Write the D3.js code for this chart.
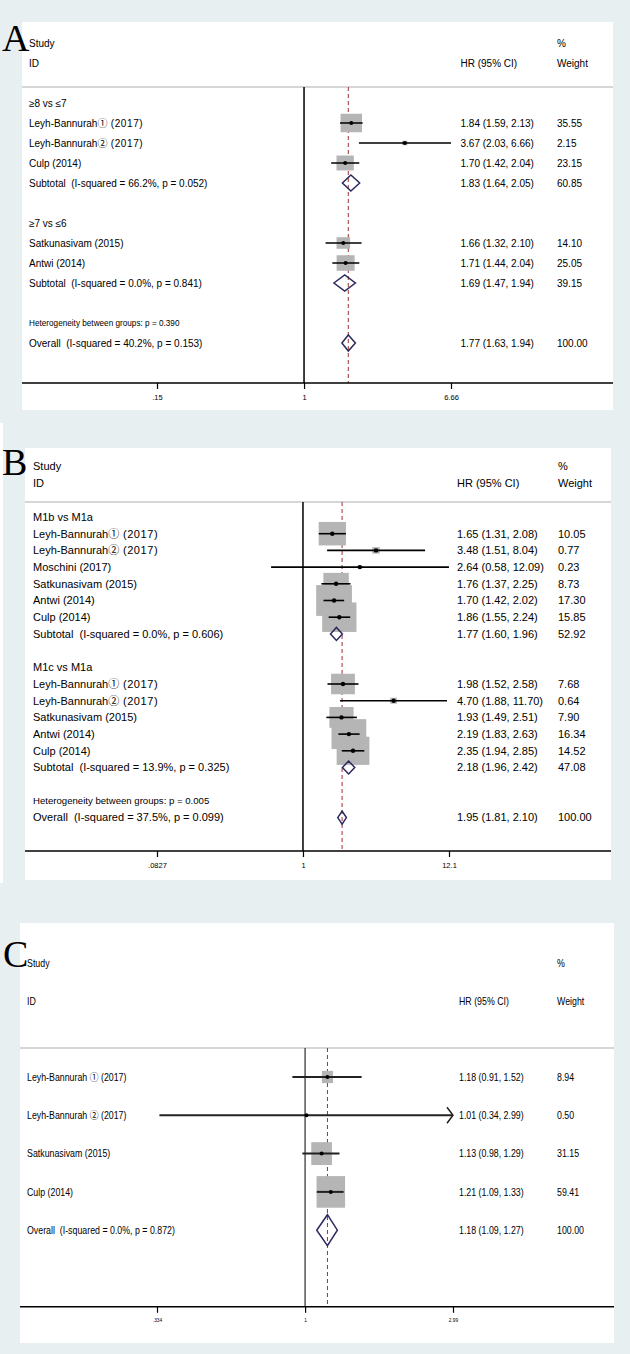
<!DOCTYPE html>
<html><head><meta charset="utf-8">
<script src="https://cdn.jsdelivr.net/npm/d3@7"></script>
<style>body{margin:0;background:#e8eff1;} svg{display:block} text{white-space:pre}</style>
</head><body>
<svg id="chart" width="630" height="1354"></svg>
<script>
// ---------- Panel A data ----------
const labelsA = ["≥8 vs ≤7","Leyh-Bannurah① (2017)","Leyh-Bannurah② (2017)","Culp (2014)",
  "Subtotal  (I-squared = 66.2%, p = 0.052)","","≥7 vs ≤6","Satkunasivam (2015)","Antwi (2014)",
  "Subtotal  (I-squared = 0.0%, p = 0.841)","","Heterogeneity between groups: p = 0.390",
  "Overall  (I-squared = 40.2%, p = 0.153)"];
const typesA = ["group","study","study","study","sub","blank","group","study","study","sub","blank","het","overall"];
const hrA     = [null,1.84,3.67,1.70,1.83,null,null,1.66,1.71,1.69,null,null,1.77];
const loA     = [null,1.59,2.03,1.42,1.64,null,null,1.32,1.44,1.47,null,null,1.63];
const hiA     = [null,2.13,6.66,2.04,2.05,null,null,2.10,2.04,1.94,null,null,1.94];
const weightA = [null,35.55,2.15,23.15,60.85,null,null,14.10,25.05,39.15,null,null,100.00];
const arrowA  = [false,false,false,false,false,false,false,false,false,false,false,false,false];
const ticksA = [0.15, 1, 6.66];
const tickLabelsA = [".15", "1", "6.66"];

// ---------- Panel B data ----------
const labelsB = ["M1b vs M1a","Leyh-Bannurah① (2017)","Leyh-Bannurah② (2017)","Moschini (2017)",
  "Satkunasivam (2015)","Antwi (2014)","Culp (2014)","Subtotal  (I-squared = 0.0%, p = 0.606)","",
  "M1c vs M1a","Leyh-Bannurah① (2017)","Leyh-Bannurah② (2017)","Satkunasivam (2015)","Antwi (2014)",
  "Culp (2014)","Subtotal  (I-squared = 13.9%, p = 0.325)","","Heterogeneity between groups: p = 0.005",
  "Overall  (I-squared = 37.5%, p = 0.099)"];
const typesB = ["group","study","study","study","study","study","study","sub","blank",
  "group","study","study","study","study","study","sub","blank","het","overall"];
const hrB     = [null,1.65,3.48,2.64,1.76,1.70,1.86,1.77,null,null,1.98,4.70,1.93,2.19,2.35,2.18,null,null,1.95];
const loB     = [null,1.31,1.51,0.58,1.37,1.42,1.55,1.60,null,null,1.52,1.88,1.49,1.83,1.94,1.96,null,null,1.81];
const hiB     = [null,2.08,8.04,12.09,2.25,2.02,2.24,1.96,null,null,2.58,11.70,2.51,2.63,2.85,2.42,null,null,2.10];
const weightB = [null,10.05,0.77,0.23,8.73,17.30,15.85,52.92,null,null,7.68,0.64,7.90,16.34,14.52,47.08,null,null,100.00];
const arrowB  = labelsB.map(() => false);
const ticksB = [0.0827, 1, 12.1];
const tickLabelsB = [".0827", "1", "12.1"];

// ---------- Panel C data ----------
const labelsC = ["Leyh-Bannurah ① (2017)","Leyh-Bannurah ② (2017)","Satkunasivam (2015)","Culp (2014)",
  "Overall  (I-squared = 0.0%, p = 0.872)"];
const typesC = ["study","study","study","study","overall"];
const hrC     = [1.18,1.01,1.13,1.21,1.18];
const loC     = [0.91,0.34,0.98,1.09,1.09];
const hiC     = [1.52,2.99,1.29,1.33,1.27];
const weightC = [8.94,0.50,31.15,59.41,100.00];
const arrowC  = [false,true,false,false,false];
const ticksC = [0.334, 1, 2.99];
const tickLabelsC = [".334", "1", "2.99"];

// ---------- layout (positions / styles) ----------
const panels = [
  {letter:"A", letterX:2, letterY:51, rect:[22,22,591,388], studyY:43, idY:63, sepY:87, row0:103, step:20,
   font:10, sx:1, hetFont:8.2, tickFont:7.5, labelX:29, hrX:460.5, wX:557, range:[157,451],
   kh:3.1, kw:3.6, dh:16, ciW:1.5, r:2, vColor:"#000", tailSpacing:0.6,
   labels:labelsA, types:typesA, hr:hrA, lo:loA, hi:hiA, w:weightA, arrow:arrowA, ticks:ticksA, tickLabels:tickLabelsA},
  {letter:"B", letterX:2, letterY:475, rect:[25,448,586,432], studyY:466, idY:483, sepY:502, row0:517, step:16.7,
   font:11, sx:1, hetFont:9.6, tickFont:7.5, labelX:33, hrX:457, wX:558, range:[157,449],
   kh:7.4, kw:8.6, dh:13, ciW:1.6, r:2.2, vColor:"#000", tailSpacing:0.6,
   labels:labelsB, types:typesB, hr:hrB, lo:loB, hi:hiB, w:weightB, arrow:arrowB, ticks:ticksB, tickLabels:tickLabelsB},
  {letter:"C", letterX:3, letterY:967, rect:[20,923,594,420], studyY:963, idY:1001, sepY:1048, row0:1077, step:38.3,
   font:10.5, sx:0.84, hetFont:9, tickFont:4.8, labelX:27, hrX:459, wX:557, range:[157,453],
   kh:4.1, kw:3.7, dh:31, ciW:2, r:2, vColor:"#555", tailSpacing:0,
   labels:labelsC, types:typesC, hr:hrC, lo:loC, hi:hiC, w:weightC, arrow:arrowC, ticks:ticksC, tickLabels:tickLabelsC}
];

const svg = d3.select("#chart");
svg.append("rect").attr("width",630).attr("height",1354).attr("fill","#e8eff1");
svg.append("rect").attr("x",0).attr("y",423).attr("width",3).attr("height",460).attr("fill","#fff");

const FONT = "'Liberation Sans', Arial, 'DejaVu Sans', sans-serif";
const CJK = "'Noto Sans CJK SC', 'DejaVu Sans', sans-serif";
const fmt = v => v.toFixed(2);

function txt(g, p, x, y, s, size) {
  return g.append("text")
    .attr("transform", `translate(${x},${y}) scale(${p.sx},1)`)
    .attr("dy", "0.35em")
    .attr("font-family", FONT)
    .attr("font-size", size || p.font)
    .attr("fill", "#000")
    .text(s);
}

panels.forEach(p => {
  const g = svg.append("g");
  const [rx, ry, rw, rh] = p.rect;
  g.append("rect").attr("x",rx).attr("y",ry).attr("width",rw).attr("height",rh).attr("fill","#fff");

  g.append("text").attr("x",p.letterX).attr("y",p.letterY)
    .attr("font-family","'Liberation Serif','Times New Roman',serif").attr("font-size",38)
    .attr("fill","#000").text(p.letter);

  // headers
  txt(g, p, p.labelX, p.studyY, "Study");
  txt(g, p, p.wX, p.studyY, "%");
  txt(g, p, p.labelX, p.idY, "ID");
  txt(g, p, p.hrX, p.idY, "HR (95% CI)");
  txt(g, p, p.wX, p.idY, "Weight");
  g.append("line").attr("x1",rx).attr("x2",rx+rw).attr("y1",p.sepY).attr("y2",p.sepY)
    .attr("stroke","#d6d6d6").attr("stroke-width",2);

  const n = p.labels.length;
  const y = d3.scaleLinear().domain([0, n + 1]).range([p.row0, p.row0 + p.step * (n + 1)]);
  const axisY = y(n + 1);
  const x = d3.scaleLog().domain([p.ticks[0], p.ticks[2]]).range(p.range);

  // null line
  g.append("line").attr("x1",x(1)).attr("x2",x(1)).attr("y1",p.sepY).attr("y2",axisY)
    .attr("stroke",p.vColor).attr("stroke-width",1.5);
  // overall dashed line
  const oi = p.types.indexOf("overall");
  g.append("line").attr("x1",x(p.hr[oi])).attr("x2",x(p.hr[oi])).attr("y1",p.sepY).attr("y2",axisY)
    .attr("stroke","#a03030").attr("stroke-width",1).attr("stroke-dasharray","4,3");

  const idx = d3.range(n);
  const studies = idx.filter(i => p.types[i] === "study");
  const pooled = idx.filter(i => p.types[i] === "sub" || p.types[i] === "overall");

  // boxes
  g.selectAll(null).data(studies).enter().append("rect")
    .attr("x", i => x(p.hr[i]) - p.kw * Math.sqrt(p.w[i]) / 2)
    .attr("y", i => y(i) - p.kh * Math.sqrt(p.w[i]) / 2)
    .attr("width", i => p.kw * Math.sqrt(p.w[i]))
    .attr("height", i => p.kh * Math.sqrt(p.w[i]))
    .attr("fill", "#b5b5b5");
  // CI lines
  g.selectAll(null).data(studies).enter().append("line")
    .attr("x1", i => x(Math.max(p.lo[i], p.ticks[0])))
    .attr("x2", i => x(Math.min(p.hi[i], p.ticks[2])))
    .attr("y1", i => y(i)).attr("y2", i => y(i))
    .attr("stroke", p.letter === "C" ? "#222" : "#000").attr("stroke-width", p.ciW);
  // arrows
  g.selectAll(null).data(studies.filter(i => p.arrow[i])).enter().append("path")
    .attr("d", i => { const ax = x(Math.min(p.hi[i], p.ticks[2])), ay = y(i);
      return `M${ax-6},${ay-8}L${ax},${ay}L${ax-6},${ay+8}`; })
    .attr("fill","none").attr("stroke","#222").attr("stroke-width",1.5);
  // points
  g.selectAll(null).data(studies).enter().append("circle")
    .attr("cx", i => x(p.hr[i])).attr("cy", i => y(i)).attr("r", p.r).attr("fill", "#000");
  // diamonds
  g.selectAll(null).data(pooled).enter().append("path")
    .attr("d", i => { const yy = y(i), h = p.dh / 2;
      return `M${x(p.lo[i])},${yy}L${x(p.hr[i])},${yy-h}L${x(p.hi[i])},${yy}L${x(p.hr[i])},${yy+h}Z`; })
    .attr("fill", "none").attr("stroke", "#2b2a5e").attr("stroke-width", 1.5);

  // row texts
  idx.forEach(i => {
    const t = p.types[i];
    if (t === "blank") return;
    if (t === "het") { txt(g, p, p.labelX, y(i), p.labels[i], p.hetFont); return; }
    const lab = p.labels[i];
    const m = lab.match(/^(.*?)([①②])(.*)$/);
    if (m) {
      const el = txt(g, p, p.labelX, y(i), m[1]);
      el.append("tspan").attr("font-family", CJK).text(m[2]);
      el.append("tspan").attr("letter-spacing", p.tailSpacing).text(m[3]);
    } else {
      txt(g, p, p.labelX, y(i), lab);
    }
    if (p.hr[i] != null) {
      txt(g, p, p.hrX, y(i), `${fmt(p.hr[i])} (${fmt(p.lo[i])}, ${fmt(p.hi[i])})`);
      txt(g, p, p.wX, y(i), fmt(p.w[i]));
    }
  });

  // x axis
  g.append("line").attr("x1",rx).attr("x2",rx+rw).attr("y1",axisY).attr("y2",axisY)
    .attr("stroke","#000").attr("stroke-width",1.5);
  const ax = g.append("g").attr("transform",`translate(0,${axisY})`)
    .call(d3.axisBottom(x).tickValues(p.ticks).tickFormat((d,k) => p.tickLabels[k]).tickSize(6));
  ax.select(".domain").remove();
  ax.selectAll(".tick line").attr("stroke","#000").attr("stroke-width",1.2);
  ax.selectAll(".tick text").attr("y",14).attr("dy","0.35em")
    .attr("font-family",FONT).attr("font-size",p.tickFont).attr("fill","#000");
});
</script>
</body></html>
